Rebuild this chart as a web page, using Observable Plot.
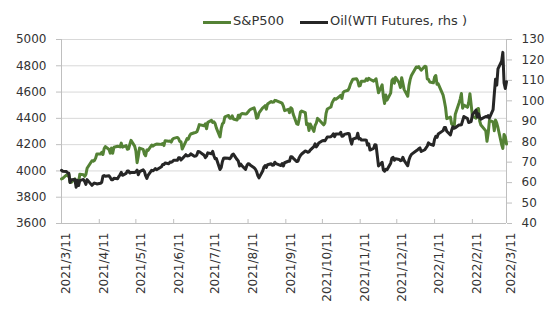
<!DOCTYPE html>
<html>
<head>
<meta charset="utf-8">
<script src="https://cdn.jsdelivr.net/npm/d3@7"></script>
<script src="https://cdn.jsdelivr.net/npm/@observablehq/plot@0.6"></script>
<style>
  html, body { margin: 0; padding: 0; background: #fff; }
  #wrap { width: 548px; height: 324px; position: relative; font-family: "DejaVu Sans", Verdana, sans-serif; }
  #legend { position: relative; width: 548px; height: 30px; font-size: 13px; color: #333; }
  .sw { position: absolute; top: 21px; width: 28px; height: 3px; }
  .lt { position: absolute; top: 13px; line-height: 15px; white-space: pre; }
</style>
</head>
<body>
<div id="wrap">
  <div id="legend"></div>
  <div id="chart"></div>
</div>
<script>
// ---- data ----
const seriesNames = ["S&P500", "Oil(WTI Futures, rhs )"];
const seriesColors = ["#548235", "#262626"];

const dates = [
  "2021-03-11","2021-03-12","2021-03-15","2021-03-16","2021-03-17","2021-03-18","2021-03-19","2021-03-22","2021-03-23","2021-03-24","2021-03-25","2021-03-26","2021-03-29","2021-03-30","2021-03-31",
  "2021-04-01","2021-04-05","2021-04-06","2021-04-07","2021-04-08","2021-04-09","2021-04-12","2021-04-13","2021-04-14","2021-04-15","2021-04-16","2021-04-19","2021-04-20","2021-04-21","2021-04-22","2021-04-23","2021-04-26","2021-04-27","2021-04-28","2021-04-29","2021-04-30",
  "2021-05-03","2021-05-04","2021-05-05","2021-05-06","2021-05-07","2021-05-10","2021-05-11","2021-05-12","2021-05-13","2021-05-14","2021-05-17","2021-05-18","2021-05-19","2021-05-20","2021-05-21","2021-05-24","2021-05-25","2021-05-26","2021-05-27","2021-05-28",
  "2021-06-01","2021-06-02","2021-06-03","2021-06-04","2021-06-07","2021-06-08","2021-06-09","2021-06-10","2021-06-11","2021-06-14","2021-06-15","2021-06-16","2021-06-17","2021-06-18","2021-06-21","2021-06-22","2021-06-23","2021-06-24","2021-06-25","2021-06-28","2021-06-29","2021-06-30",
  "2021-07-01","2021-07-02","2021-07-06","2021-07-07","2021-07-08","2021-07-09","2021-07-12","2021-07-13","2021-07-14","2021-07-15","2021-07-16","2021-07-19","2021-07-20","2021-07-21","2021-07-22","2021-07-23","2021-07-26","2021-07-27","2021-07-28","2021-07-29","2021-07-30",
  "2021-08-02","2021-08-03","2021-08-04","2021-08-05","2021-08-06","2021-08-09","2021-08-10","2021-08-11","2021-08-12","2021-08-13","2021-08-16","2021-08-17","2021-08-18","2021-08-19","2021-08-20","2021-08-23","2021-08-24","2021-08-25","2021-08-26","2021-08-27","2021-08-30","2021-08-31",
  "2021-09-01","2021-09-02","2021-09-03","2021-09-07","2021-09-08","2021-09-09","2021-09-10","2021-09-13","2021-09-14","2021-09-15","2021-09-16","2021-09-17","2021-09-20","2021-09-21","2021-09-22","2021-09-23","2021-09-24","2021-09-27","2021-09-28","2021-09-29","2021-09-30",
  "2021-10-01","2021-10-04","2021-10-05","2021-10-06","2021-10-07","2021-10-08","2021-10-11","2021-10-12","2021-10-13","2021-10-14","2021-10-15","2021-10-18","2021-10-19","2021-10-20","2021-10-21","2021-10-22","2021-10-25","2021-10-26","2021-10-27","2021-10-28","2021-10-29",
  "2021-11-01","2021-11-02","2021-11-03","2021-11-04","2021-11-05","2021-11-08","2021-11-09","2021-11-10","2021-11-11","2021-11-12","2021-11-15","2021-11-16","2021-11-17","2021-11-18","2021-11-19","2021-11-22","2021-11-23","2021-11-24","2021-11-26","2021-11-29","2021-11-30",
  "2021-12-01","2021-12-02","2021-12-03","2021-12-06","2021-12-07","2021-12-08","2021-12-09","2021-12-10","2021-12-13","2021-12-14","2021-12-15","2021-12-16","2021-12-17","2021-12-20","2021-12-21","2021-12-22","2021-12-23","2021-12-27","2021-12-28","2021-12-29","2021-12-30","2021-12-31",
  "2022-01-03","2022-01-04","2022-01-05","2022-01-06","2022-01-07","2022-01-10","2022-01-11","2022-01-12","2022-01-13","2022-01-14","2022-01-18","2022-01-19","2022-01-20","2022-01-21","2022-01-24","2022-01-25","2022-01-26","2022-01-27","2022-01-28","2022-01-31",
  "2022-02-01","2022-02-02","2022-02-03","2022-02-04","2022-02-07","2022-02-08","2022-02-09","2022-02-10","2022-02-11","2022-02-14","2022-02-15","2022-02-16","2022-02-17","2022-02-18","2022-02-22","2022-02-23","2022-02-24","2022-02-25","2022-02-28",
  "2022-03-01","2022-03-02","2022-03-03","2022-03-04","2022-03-07","2022-03-08","2022-03-09","2022-03-10","2022-03-11"
];

const spx = [
  3939.34,3943.34,3968.94,3962.71,3974.12,3915.46,3913.10,3940.59,3910.52,3889.14,3909.52,3974.54,3971.09,3958.55,3972.89,
  4019.87,4077.91,4073.94,4079.95,4097.17,4128.80,4127.99,4141.59,4124.66,4170.42,4185.47,4163.26,4134.94,4173.42,4134.98,4180.17,4187.62,4186.72,4183.18,4211.47,4181.17,
  4192.66,4164.66,4167.59,4201.62,4232.60,4188.43,4152.10,4063.04,4112.50,4173.85,4163.29,4127.83,4115.68,4159.12,4155.86,4197.05,4188.13,4195.99,4200.88,4204.11,
  4202.04,4208.12,4192.85,4229.89,4226.52,4227.26,4219.55,4239.18,4247.44,4255.15,4246.59,4223.70,4221.86,4166.45,4224.79,4246.44,4241.84,4266.49,4280.70,4290.61,4291.80,4297.50,
  4319.94,4352.34,4343.54,4358.13,4320.82,4369.55,4384.63,4369.21,4374.30,4360.03,4327.16,4258.49,4323.06,4358.69,4367.48,4411.79,4422.30,4401.46,4400.64,4419.15,4395.26,
  4387.16,4423.15,4402.66,4429.10,4436.52,4432.35,4436.75,4447.70,4460.83,4468.00,4479.71,4448.08,4400.27,4405.80,4441.67,4479.53,4486.23,4496.19,4470.00,4509.37,4528.79,4522.68,
  4524.09,4536.95,4535.43,4520.03,4514.07,4493.28,4458.58,4468.73,4443.05,4480.70,4473.75,4432.99,4357.73,4354.19,4395.64,4448.98,4455.48,4443.11,4352.63,4359.46,4307.54,
  4357.04,4300.46,4345.72,4363.55,4399.76,4391.34,4361.19,4350.65,4363.80,4438.26,4471.37,4486.46,4519.63,4536.19,4549.78,4544.90,4566.48,4574.79,4551.68,4596.42,4605.38,
  4613.67,4630.65,4660.57,4680.06,4697.53,4701.70,4685.25,4646.71,4649.27,4682.85,4682.80,4700.90,4688.67,4704.54,4697.96,4682.94,4690.70,4701.46,4594.62,4655.27,4567.00,
  4513.04,4577.10,4538.43,4591.67,4686.75,4701.21,4667.45,4712.02,4668.97,4634.09,4709.85,4668.67,4620.64,4568.02,4649.23,4696.56,4725.79,4791.19,4786.35,4793.06,4778.73,4766.18,
  4796.56,4793.54,4700.58,4696.05,4677.03,4670.29,4713.07,4726.35,4659.03,4662.85,4577.11,4532.76,4482.73,4397.94,4410.13,4356.45,4349.93,4326.51,4431.85,4515.55,
  4546.54,4589.38,4477.44,4500.53,4483.87,4521.54,4587.18,4504.08,4418.64,4401.67,4471.07,4475.01,4380.26,4348.87,4304.76,4225.50,4288.70,4384.65,4373.94,
  4306.26,4386.54,4363.49,4328.87,4201.09,4170.70,4277.88,4259.52,4204.31
];

const oil = [
  66.02,65.61,65.39,64.80,64.60,60.00,61.42,61.55,57.76,61.18,58.56,60.97,61.56,60.55,59.16,
  61.45,58.65,59.33,59.77,59.60,59.32,59.70,60.18,63.15,63.46,63.13,63.38,62.44,61.35,61.43,62.14,61.91,62.94,63.86,65.01,63.58,
  64.49,65.69,65.63,64.71,64.90,64.92,65.28,66.08,63.82,65.37,66.27,65.49,63.36,62.05,63.58,66.05,65.76,66.21,66.85,66.32,
  67.72,68.83,68.81,69.62,69.23,70.05,69.96,70.29,70.91,70.88,72.12,72.15,71.04,71.64,73.66,73.06,73.08,73.30,74.05,72.91,72.98,73.47,
  75.23,75.16,73.37,72.20,72.94,74.56,74.10,75.25,73.13,71.65,71.81,66.42,67.42,70.30,71.91,72.07,71.91,71.65,72.39,73.62,73.95,
  71.26,70.56,68.15,69.09,68.28,66.48,68.29,69.25,69.09,68.44,67.29,66.59,65.46,63.50,62.32,65.64,67.54,68.36,67.42,68.74,69.21,68.50,
  68.59,69.99,69.29,68.35,69.30,68.14,69.72,70.45,70.46,72.61,72.61,71.97,70.29,70.56,72.23,73.30,73.98,75.45,75.29,74.83,75.03,
  75.88,77.62,78.93,77.43,78.30,79.35,80.52,80.64,80.44,81.31,82.28,82.44,82.96,83.87,82.50,83.76,83.76,84.65,82.66,82.81,83.57,
  84.05,83.91,80.86,78.81,81.27,81.93,84.15,81.34,81.59,80.79,80.88,80.76,78.36,79.01,75.94,76.75,78.50,78.39,68.15,69.95,66.18,
  65.57,66.50,66.26,69.49,72.05,72.36,70.94,71.67,71.29,70.73,70.87,72.38,70.86,68.23,71.12,72.76,73.79,75.57,75.98,76.56,76.99,75.21,
  76.08,76.99,77.85,79.46,78.90,78.23,81.22,82.64,82.12,83.82,85.43,86.96,86.90,85.14,83.31,85.60,87.35,86.61,86.82,88.15,
  88.20,88.26,90.27,92.31,91.32,89.36,89.66,89.88,93.10,95.46,92.07,93.66,91.76,91.07,92.35,92.10,92.81,91.59,95.72,
  103.41,110.60,107.67,115.68,119.40,123.70,108.70,106.02,109.33
];

const xTicks = ["2021-03-11","2021-04-11","2021-05-11","2021-06-11","2021-07-11","2021-08-11","2021-09-11","2021-10-11","2021-11-11","2021-12-11","2022-01-11","2022-02-11","2022-03-11"];
const leftTicks = [3600, 3800, 4000, 4200, 4400, 4600, 4800, 5000];
const rightTicks = [40, 50, 60, 70, 80, 90, 100, 110, 120, 130];

// ---- build ----
const parse = d3.utcParse("%Y-%m-%d");
const L0 = leftTicks[0], L1 = leftTicks[leftTicks.length - 1];
const R0 = rightTicks[0], R1 = rightTicks[rightTicks.length - 1];
const toLeft = v => L0 + (v - R0) * (L1 - L0) / (R1 - R0);
const toRight = v => R0 + (v - L0) * (R1 - R0) / (L1 - L0);

const rows = dates.map((d, i) => ({date: parse(d), spx: spx[i], oil: toLeft(oil[i])}));
const tickDates = xTicks.map(parse);
const fmt = d => `${d.getUTCFullYear()}/${d.getUTCMonth() + 1}/${d.getUTCDate()}`;

// legend
const legend = document.getElementById("legend");
const legendPos = [[203, 233], [300, 330]];
seriesNames.forEach((name, i) => {
  const sw = document.createElement("div");
  sw.className = "sw";
  sw.style.left = legendPos[i][0] + "px";
  sw.style.background = seriesColors[i];
  legend.appendChild(sw);
  const t = document.createElement("div");
  t.className = "lt";
  t.style.left = legendPos[i][1] + "px";
  t.textContent = name;
  legend.appendChild(t);
});

const axisColor = "#bfbfbf";
const chart = Plot.plot({
  width: 548,
  height: 294,
  marginLeft: 61,
  marginRight: 42,
  marginTop: 9,
  marginBottom: 101,
  style: {fontFamily: "DejaVu Sans, Verdana, sans-serif", fontSize: "12px", color: "#333", background: "#fff"},
  x: {type: "utc", domain: [tickDates[0], tickDates[tickDates.length - 1]]},
  y: {domain: [L0, L1]},
  marks: [
    Plot.gridY(leftTicks.slice(1), {stroke: "#d9d9d9", strokeOpacity: 1}),
    Plot.axisY(leftTicks, {anchor: "left", tickSize: 5, tickPadding: 10, label: null, stroke: axisColor,
      tickFormat: v => String(v)}),
    Plot.axisY(rightTicks.map(toLeft), {anchor: "right", tickSize: 5, tickPadding: 10, label: null, stroke: axisColor,
      tickFormat: v => String(Math.round(toRight(v)))}),
    Plot.axisX(tickDates, {anchor: "bottom", tickSize: 0, tickPadding: 9, tickRotate: -90, tickFormat: fmt, label: null, dx: 5}),
    Plot.ruleX(tickDates, {y1: L0, y2: L0, insetTop: -4, stroke: axisColor}),
    Plot.ruleX([tickDates[0], tickDates[tickDates.length - 1]], {stroke: axisColor}),
    Plot.ruleY([L0], {stroke: axisColor}),
    Plot.line(rows, {x: "date", y: "spx", stroke: seriesColors[0], strokeWidth: 3}),
    Plot.line(rows, {x: "date", y: "oil", stroke: seriesColors[1], strokeWidth: 3})
  ]
});
document.getElementById("chart").appendChild(chart);
</script>
</body>
</html>
